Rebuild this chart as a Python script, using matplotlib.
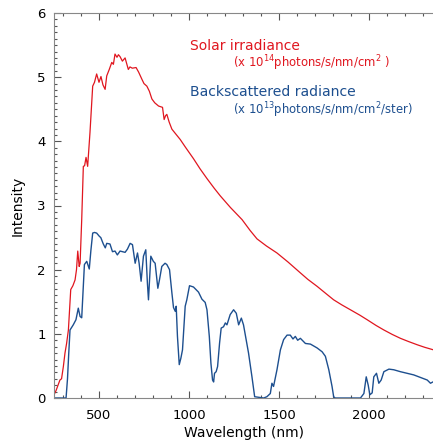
import matplotlib
matplotlib.use("Agg")
import matplotlib.pyplot as plt
from matplotlib.ticker import MultipleLocator
import numpy as np

# Solar irradiance (x 1e14 photons/s/nm/cm2)
sol_wl = [250, 262, 275, 283, 292, 302, 311, 320, 330, 343, 355, 367, 375, 382, 390,
          395, 404, 413, 420, 428, 437, 450, 465, 475, 487, 500, 511, 522, 534, 543,
          557, 571, 580, 589, 600, 608, 617, 630, 645, 655, 663, 672, 685, 706, 720,
          738, 750, 766, 780, 794, 810, 831, 853, 862, 870, 877, 890, 905, 925, 951,
          980, 1025, 1062, 1100, 1140, 1174, 1230, 1295, 1340, 1378, 1430, 1489, 1550,
          1619, 1660, 1712, 1760, 1804, 1850, 1897, 1950, 1990, 2040, 2083, 2130, 2175,
          2220, 2268, 2310, 2359]
sol_val = [0.05, 0.12, 0.22, 0.28, 0.30, 0.49, 0.70, 0.85, 1.06, 1.69, 1.75, 1.84, 2.00,
           2.29, 2.05, 2.10, 2.78, 3.61, 3.62, 3.75, 3.61, 4.14, 4.86, 4.92, 5.05, 4.92,
           5.01, 4.88, 4.81, 5.02, 5.12, 5.23, 5.20, 5.36, 5.31, 5.35, 5.32, 5.25, 5.30,
           5.20, 5.12, 5.16, 5.14, 5.15, 5.08, 4.97, 4.90, 4.86, 4.78, 4.66, 4.60, 4.55,
           4.53, 4.34, 4.40, 4.42, 4.30, 4.19, 4.12, 4.03, 3.91, 3.73, 3.57, 3.42, 3.27,
           3.15, 2.97, 2.78, 2.61, 2.48, 2.37, 2.26, 2.12, 1.95, 1.85, 1.74, 1.63, 1.53,
           1.45, 1.375, 1.29, 1.22, 1.13, 1.06, 0.99, 0.93, 0.88, 0.83, 0.79, 0.75]

# Backscattered radiance (x 1e13 photons/s/nm/cm2/ster)
bs_wl = [250, 317, 325, 332, 339, 357, 372, 385, 395, 404, 412, 419, 432, 446, 455,
         465, 475, 487, 502, 510, 524, 535, 543, 561, 575, 589, 602, 617, 645, 658,
         673, 686, 701, 714, 723, 734, 747, 760, 769, 775, 788, 802, 812, 827, 836,
         849, 867, 877, 892, 905, 914, 924, 929, 936, 946, 955, 964, 979, 988, 1003,
         1025, 1053, 1072, 1090, 1100, 1113, 1122, 1131, 1137, 1142, 1151, 1159, 1170,
         1179, 1192, 1202, 1211, 1229, 1248, 1263, 1276, 1291, 1303, 1331, 1350, 1365,
         1415, 1433, 1452, 1461, 1470, 1489, 1508, 1526, 1545, 1563, 1578, 1591, 1604,
         1619, 1647, 1675, 1712, 1740, 1758, 1777, 1795, 1804, 1812, 1953, 1972, 1985,
         1996, 2005, 2018, 2027, 2042, 2055, 2068, 2083, 2111, 2138, 2175, 2212, 2249,
         2287, 2324, 2342, 2359]
bs_val = [0.0, 0.0, 0.30, 0.70, 1.06, 1.14, 1.22, 1.40, 1.27, 1.25, 1.70, 2.08, 2.13,
          2.01, 2.30, 2.57, 2.58, 2.57, 2.52, 2.50, 2.40, 2.34, 2.41, 2.40, 2.28, 2.29,
          2.23, 2.29, 2.27, 2.32, 2.41, 2.39, 2.10, 2.26, 2.10, 1.82, 2.21, 2.31, 1.79,
          1.53, 2.21, 2.13, 2.10, 1.71, 1.84, 2.05, 2.10, 2.08, 2.00, 1.64, 1.41, 1.35,
          1.43, 0.96, 0.52, 0.62, 0.75, 1.43, 1.53, 1.75, 1.73, 1.65, 1.54, 1.49, 1.375,
          0.96, 0.54, 0.28, 0.25, 0.385, 0.41, 0.49, 0.855, 1.09, 1.11, 1.17, 1.14, 1.30,
          1.375, 1.32, 1.14, 1.245, 1.14, 0.70, 0.33, 0.02, 0.0, 0.02, 0.07, 0.23, 0.18,
          0.44, 0.75, 0.91, 0.98, 0.98, 0.92, 0.96, 0.90, 0.93, 0.85, 0.84, 0.78, 0.72,
          0.65, 0.44, 0.18, 0.02, 0.0, 0.0, 0.07, 0.33, 0.20, 0.05, 0.08, 0.33, 0.385,
          0.23, 0.28, 0.41, 0.45, 0.44, 0.41, 0.385, 0.36, 0.32, 0.28, 0.23, 0.255]

red = "#e0161f"
blue = "#1d4f8f"

W, H = 433, 443
fig = plt.figure(figsize=(W / 100, H / 100), dpi=100)
ax = fig.add_axes([54 / W, 1 - 398 / H, 1 - 54 / W, (398 - 13) / H])

ax.plot(sol_wl, sol_val, color=red, lw=0.9)
ax.plot(bs_wl, bs_val, color=blue, lw=1.0)

ax.set_xlim(250, 2356)
ax.set_ylim(0, 6)
ax.xaxis.set_major_locator(MultipleLocator(500))
ax.xaxis.set_minor_locator(MultipleLocator(100))
ax.yaxis.set_major_locator(MultipleLocator(1))
ax.yaxis.set_minor_locator(MultipleLocator(0.1))

ax.tick_params(which="both", direction="in", top=True, right=False, color="#555555",
               labelsize=9.5, width=0.8)
ax.tick_params(which="major", length=5)
ax.tick_params(which="minor", length=2.5)
ax.tick_params(axis="x", which="major", pad=8)
ax.tick_params(axis="y", which="major", pad=6)
ax.spines["right"].set_visible(False)
for s in ["left", "bottom", "top"]:
    ax.spines[s].set_color("#888888")
    ax.spines[s].set_linewidth(0.8)

ax.set_xlabel("Wavelength (nm)", fontsize=10, labelpad=3)
ax.set_ylabel("Intensity", fontsize=10, labelpad=9)


def px(x, y):
    return x / W, 1 - y / H


# legend-like annotations
fig.text(*px(190, 46), "Solar irradiance", color=red, fontsize=10, va="center")
fig.text(*px(233, 63), r"(x 10$^{14}$photons/s/nm/cm$^{2}$ )", color=red,
         fontsize=8.4, va="center")
fig.text(*px(190, 92), "Backscattered radiance", color=blue, fontsize=10.1, va="center")
fig.text(*px(233, 110), r"(x 10$^{13}$photons/s/nm/cm$^{2}$/ster)", color=blue,
         fontsize=8.4, va="center")

fig.savefig("out.png", dpi=100)
